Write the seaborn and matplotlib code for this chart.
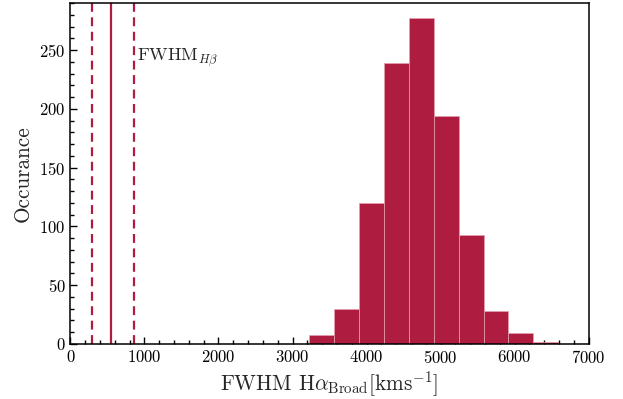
import numpy as np
import pandas as pd
import matplotlib
matplotlib.use("Agg")
import matplotlib.pyplot as plt
from matplotlib.ticker import MultipleLocator
import seaborn as sns

# Data
bin_edges = [3228, 3564, 3900, 4236, 4572, 4908, 5244, 5580, 5916, 6252, 6588]
counts = [8, 30, 120, 239, 277, 194, 93, 28, 9, 2]
hbeta_center = 555
hbeta_low = 286
hbeta_high = 856

sns.set_theme(style="ticks")
plt.rcParams.update({
    "font.family": "serif",
    "font.serif": ["cmr10"],
    "mathtext.fontset": "cm",
    "axes.formatter.use_mathtext": True,
    "axes.unicode_minus": False,
})

color = "#AE1C40"
centers = [(bin_edges[i] + bin_edges[i + 1]) / 2 for i in range(len(counts))]
df = pd.DataFrame({"fwhm": centers, "n": counts})

fig = plt.figure(figsize=(6.23, 3.99), dpi=100)
ax = fig.add_axes([0.113, 0.138, 0.832, 0.854])

sns.histplot(data=df, x="fwhm", weights="n", bins=bin_edges, color=color,
             alpha=1.0, edgecolor="#e8a0b0", linewidth=0.5, ax=ax)

ax.axvline(hbeta_center, color=color, lw=1.6)
ax.axvline(hbeta_low, color=color, lw=1.6, ls=(0, (4, 2.5)))
ax.axvline(hbeta_high, color=color, lw=1.6, ls=(0, (4, 2.5)))
ax.text(905, 244, r"FWHM$_{H\beta}$", fontsize=13, va="center", ha="left")

ax.set_xlim(0, 7000)
ax.set_ylim(0, 290)
ax.set_xlabel(r"FWHM H$\alpha_{\mathrm{Broad}}$[kms$^{-1}$]", fontsize=15.3, labelpad=3)
ax.set_ylabel("Occurance", fontsize=15.3, labelpad=5)

ax.xaxis.set_major_locator(MultipleLocator(1000))
ax.xaxis.set_minor_locator(MultipleLocator(200))
ax.yaxis.set_major_locator(MultipleLocator(50))
ax.yaxis.set_minor_locator(MultipleLocator(10))
ax.tick_params(which="both", direction="in", top=False, right=False, colors="black",
               labelsize=12, width=1.0)
ax.tick_params(which="major", length=5)
ax.tick_params(which="minor", length=3)
for s in ax.spines.values():
    s.set_color("black")
    s.set_linewidth(1.1)

fig.savefig("out.png", dpi=100)
